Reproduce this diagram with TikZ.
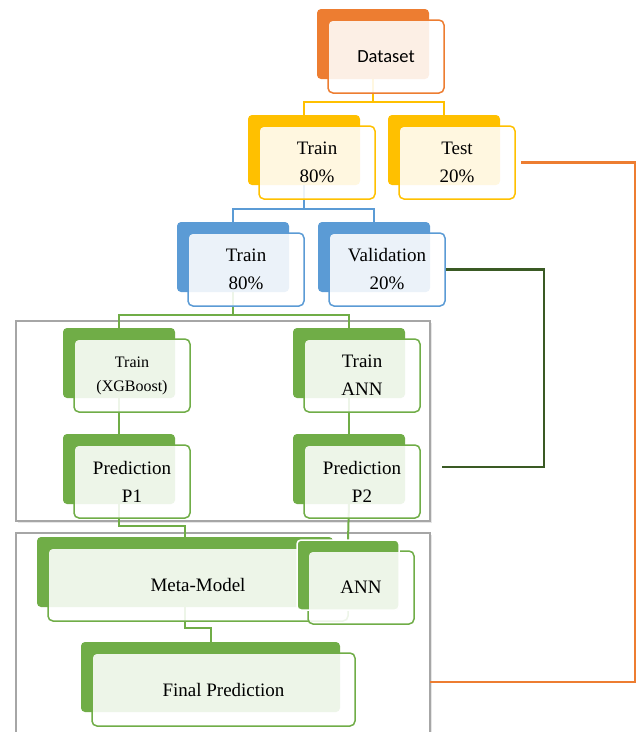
\documentclass[tikz,border=0pt]{standalone}
\usepackage{fontspec}
\setmainfont{Liberation Serif}
\newfontfamily\calibrifont{Carlito}
\usetikzlibrary{shadows}
\definecolor{dsorange}{HTML}{ED7D31}
\definecolor{dsyellow}{HTML}{FFC000}
\definecolor{dsblue}{HTML}{5B9BD5}
\definecolor{dsgreen}{HTML}{70AD47}
\definecolor{dkgreen}{HTML}{3A5A24}
\definecolor{grpgray}{HTML}{A6A6A6}
\pgfdeclarelayer{bg}
\pgfsetlayers{bg,main}
\tikzset{
	backbox/.style={fill=#1,rounded corners=4pt,minimum height=70,inner sep=0,outer sep=0,anchor=north west},
	frontbox/.style={draw=#1,line width=1.5pt,rounded corners=5pt,fill=white,fill opacity=0.88,text opacity=1,
		minimum height=73,inner sep=0,outer sep=0,align=center,font=\fontsize{19}{28}\selectfont},
	link/.style={draw=#1,line width=2pt},
	groupbox/.style={draw=grpgray,line width=2pt,fill=white,inner sep=0,outer sep=0,anchor=north west,
		drop shadow={shadow xshift=2pt,shadow yshift=-2pt,opacity=0.2,fill=gray}}
}
% back block, then the outlined block on top of it
\newcommand{\tierbox}[7][]{%
	\node[backbox=#3,minimum width=#6] (#2b) at (#4,#5) {};
	\node[frontbox=#3,minimum width=#6+4,anchor=north west,#1] (#2) at ([shift={(11pt,-11pt)}]#2b.north west) {#7};
}
\begin{document}
\begin{tikzpicture}[x=1pt,y=-1pt]
		\useasboundingbox (0,0) rectangle (642,732);
		\begin{pgfonlayer}{bg}
			\node[groupbox,minimum width=414,minimum height=200] (group1) at (16,321) {};
			\node[groupbox,minimum width=414,minimum height=206] (group2) at (16,533) {};
		\end{pgfonlayer}
		\tierbox[font=\calibrifont\fontsize{18.5}{22}\selectfont]{dataset}{dsorange}{317}{9}{112}{Dataset}
		\tierbox{trainA}{dsyellow}{248}{115}{112}{Train\\80\%}
		\tierbox{test}{dsyellow}{388}{115}{112}{Test\\20\%}
		\tierbox{trainB}{dsblue}{177}{222}{112}{Train\\80\%}
		\tierbox{valid}{dsblue}{318}{222}{112}{Validation\\20\%}
		\tierbox[font=\fontsize{16}{24}\selectfont]{xgb}{dsgreen}{63}{328}{112}{Train\\(XGBoost)}
		\tierbox{ann}{dsgreen}{293}{328}{112}{Train\\ANN}
		\tierbox{predA}{dsgreen}{63}{434}{112}{Prediction\\P1}
		\tierbox{predB}{dsgreen}{293}{434}{112}{Prediction\\P2}
		\tierbox{meta}{dsgreen}{37}{537}{296}{Meta-Model}
		\tierbox{annmeta}{dsgreen}{297}{540}{102}{ANN}
		\draw[white,line width=1.5pt,rounded corners=4pt] (annmetab.north west) rectangle (annmetab.south east);
		\tierbox{final}{dsgreen}{81}{642}{259}{Final Prediction}
		\coordinate (split1) at ([yshift=-23pt]datasetb.south);
		\coordinate (split2) at ([yshift=-24pt]trainAb.south);
		\coordinate (split3) at ([yshift=-23pt]trainBb.south);
		\coordinate (valend) at (442,467);
		\coordinate (testout) at ([xshift=6pt]test.east);
		\coordinate (finalin) at (430,682);
		\begin{pgfonlayer}{bg}
			\draw[link=dsyellow] (datasetb.south) -- (split1) -| (trainAb.north);
			\draw[link=dsyellow] (split1) -| (testb.north);
			\draw[link=dsblue] (trainAb.south) -- (split2) -| (trainBb.north);
			\draw[link=dsblue] (split2) -| (validb.north);
			\draw[link=dsgreen] (trainBb.south) -- (split3) -| (xgbb.north);
			\draw[link=dsgreen] (split3) -| (annb.north);
			\draw[link=dsgreen] (xgbb.south) -- (predAb.north);
			\draw[link=dsgreen] (annb.south) -- (predBb.north);
			\draw[link=dsgreen] (predAb.south) -- ++(0,22) -| (metab.north);
			\draw[link=dsgreen] (predBb.south) -- (annmetab.north);
			\draw[link=dsgreen] (metab.south) -- ++(0,21) -| (finalb.north);
			\draw[link=dkgreen,line width=2.5pt] (valid.east) -- ++(99,0) |- (valend);
			\draw[link=dsorange,line width=2.5pt] (testout) -- ++(114,0) |- (finalin);
		\end{pgfonlayer}
\end{tikzpicture}
\end{document}
